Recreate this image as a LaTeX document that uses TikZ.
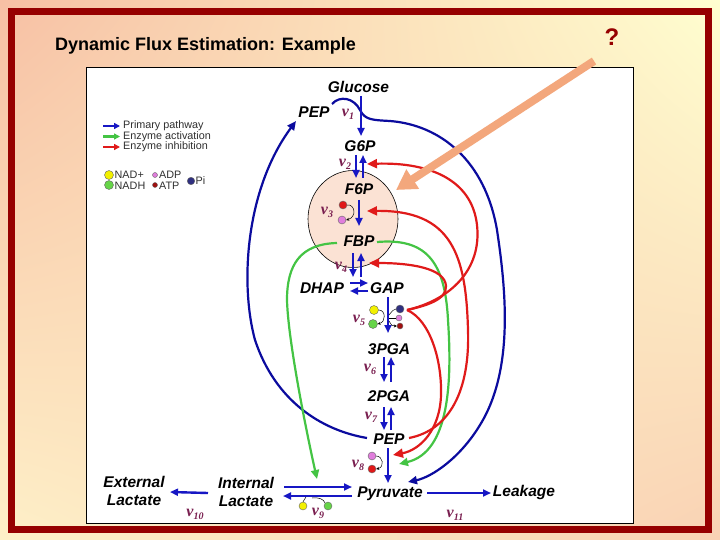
\documentclass[tikz,border=0pt]{standalone}
\usepackage{fontspec}
\setmainfont{Liberation Sans}
\newfontfamily\serfont{Liberation Serif}
\usetikzlibrary{arrows.meta,shapes.geometric,shadings}
\definecolor{pblue}{HTML}{1717C4}
\definecolor{nblue}{HTML}{0B0B9E}
\definecolor{agreen}{HTML}{44C444}
\definecolor{ired}{HTML}{E01A1A}
\definecolor{vcol}{HTML}{7A1F50}
\definecolor{framecol}{HTML}{960000}
\definecolor{peach}{HTML}{F7C0A4}
\definecolor{cream}{HTML}{FFFFD0}
\definecolor{creamb}{HTML}{FEF0C8}
\definecolor{peachb}{HTML}{F9D2B4}
\definecolor{orng}{HTML}{F3A77C}
\definecolor{cellcol}{HTML}{FBE2D4}
\definecolor{nadcol}{HTML}{F2F000}
\definecolor{nadhcol}{HTML}{66D448}
\definecolor{adpcol}{HTML}{E07EDC}
\definecolor{atpcol}{HTML}{A01010}
\definecolor{atpred}{HTML}{E01818}
\definecolor{picol}{HTML}{303080}
\definecolor{legtext}{HTML}{303030}
\newcommand{\vlab}[1]{{\serfont\bfseries\itshape\fontsize{16}{16}\selectfont v\raisebox{-3pt}{\fontsize{10}{10}\selectfont #1}}}
\begin{document}
\begin{tikzpicture}[x=1pt,y=-1pt,
  met/.style={font=\bfseries\itshape\fontsize{15.5}{18}\selectfont, inner sep=0pt, text height=11pt, text depth=0pt},
  mettwo/.style={font=\bfseries\itshape\fontsize{15.5}{18}\selectfont, inner sep=0pt, align=center},
  vl/.style={text=vcol, inner sep=0pt},
  leg/.style={font=\fontsize{10.8}{12}\selectfont, text=legtext, inner sep=0pt, anchor=west},
  pa/.style={pblue, line width=2.4pt, -{Triangle[length=8pt,width=7pt]}},
  nav/.style={nblue, line width=2.2pt, -{Triangle[length=9pt,width=8pt]}},
  grn/.style={agreen, line width=2.2pt, -{Triangle[length=9pt,width=8pt]}},
  rdl/.style={ired, line width=2.2pt, -{Triangle[length=10pt,width=9pt]}},
  cof/.style={circle, draw=black!60, line width=0.4pt, inner sep=0pt},
  tinyarr/.style={black, line width=0.5pt, -{Stealth[length=3pt,width=3pt]}},
  tinyline/.style={black, line width=0.5pt}
]
\useasboundingbox (0,0) rectangle (720,540);
% background
\shade[upper left=peach, upper right=cream, lower left=creamb, lower right=peachb] (0,0) rectangle (720,540);
\draw[framecol, line width=7pt] (11.5,11.5) rectangle (708.5,529);
\draw[fill=white, line width=0.8pt] (86,67) rectangle (633,523);

% title
\node[font=\bfseries\fontsize{18}{20}\selectfont, anchor=west, inner sep=0pt] (title) at (55,46) {Dynamic Flux Estimation: Example};
\node[font=\bfseries\fontsize{24}{26}\selectfont, text=framecol, inner sep=0pt] (qmark) at (612,37) {?};

% compartment
\node[ellipse, draw, line width=0.6pt, fill=cellcol, minimum width=90pt, minimum height=97pt, inner sep=0pt] (pfk) at (353,219) {};

% metabolites
\node[met] (glc) at (358.5,87.5) {Glucose};
\node[met] (pepA) at (314,112) {PEP};
\node[met] (g6p) at (360,146) {G6P};
\node[met] (f6p) at (359,189) {F6P};
\node[met] (fbp) at (359,241) {FBP};
\node[met] (dhap) at (322,288) {DHAP};
\node[met] (gap) at (387,288) {GAP};
\node[met] (pga3) at (389,349) {3PGA};
\node[met] (pga2) at (389,396) {2PGA};
\node[met] (pepB) at (389,439) {PEP};
\node[met] (pyr) at (390,492) {Pyruvate};
\node[met] (leak) at (524,491) {Leakage};
\node[mettwo] (ilac) at (246,492) {Internal\\Lactate};
\node[mettwo] (elac) at (134,491) {External\\Lactate};
\coordinate (tri) at (357,287);

% cofactor circles
\node[cof, fill=atpred, minimum size=8pt] (atp3) at (343,205) {};
\node[cof, fill=adpcol, minimum size=8pt] (adp3) at (342,220) {};
\node[cof, fill=nadcol, minimum size=9pt] (nad5) at (374,310) {};
\node[cof, fill=nadhcol, minimum size=9pt] (nadh5) at (373,324) {};
\node[cof, fill=picol, minimum size=8pt] (pi5) at (400,309) {};
\node[cof, fill=adpcol, minimum size=6pt] (adp5) at (399,318) {};
\node[cof, fill=atpcol, minimum size=6pt] (atp5) at (400,326) {};
\node[cof, fill=adpcol, minimum size=8pt] (adp8) at (372,456) {};
\node[cof, fill=atpred, minimum size=8pt] (atp8) at (372,469) {};
\node[cof, fill=nadcol, minimum size=8pt] (nad9) at (303,506) {};
\node[cof, fill=nadhcol, minimum size=8pt] (nadh9) at (328,506) {};
\coordinate (m5) at (388,318);

% navy curves
\draw[nav] ([shift={(18,-8)}]pepA.center) .. controls (340,95) and (354,98) .. (360,110)
  .. controls (365,120) and (372,120) .. (390,121)
  .. controls (440,125) and (485,160) .. (497,230)
  .. controls (506,290) and (514,370) .. (480,425)
  .. controls (460,458) and (432,477) .. ([shift={(18,-10)}]pyr.center);
\draw[nav] ([shift={(-22,-1)}]pepB.center) .. controls (320,430) and (275,400) .. (255,340)
  .. controls (240,285) and (245,190) .. ([shift={(-18,9)}]pepA.center);

% green curves
\draw[grn] ([shift={(-22,2)}]fbp.center) .. controls (300,244) and (287,265) .. (287,300)
  .. controls (288,340) and (306,430) .. ([shift={(-73,-13)}]pyr.center);
\draw[grn] ([shift={(18,1)}]fbp.center) .. controls (425,238) and (445,260) .. (448,320)
  .. controls (452,380) and (450,452) .. ([shift={(10,25)}]pepB.center);

% red curves
\draw[rdl] ([shift={(20,-1)}]pepB.center) .. controls (450,430) and (470,390) .. (468,330)
  .. controls (466,255) and (452,210) .. ([shift={(8,22)}]f6p.center);
\draw[rdl] ([shift={(7,1)}]pi5.center) .. controls (450,300) and (482,270) .. (477,225)
  .. controls (472,180) and (430,162) .. ([shift={(7,18)}]g6p.center);
\draw[rdl] ([shift={(7,1)}]pi5.center) .. controls (425,306) and (447,300) .. (446,286)
  .. controls (445,268) and (410,263) .. ([shift={(10,22)}]fbp.center);
\draw[rdl] ([shift={(7,1)}]pi5.center) .. controls (430,320) and (442,360) .. (441,395)
  .. controls (440,430) and (420,450) .. ([shift={(4,16)}]pepB.center);

% main pathway arrows
\draw[pa] ([shift={(2.5,8.5)}]glc.center) -- ([shift={(1,-10)}]g6p.center);
\draw[pa] ([shift={(-4,9)}]g6p.center) -- ([shift={(-3,-11)}]f6p.center);
\draw[pa] ([shift={(4,-11)}]f6p.center) -- ([shift={(3,9)}]g6p.center);
\draw[pa] ([shift={(0,11)}]f6p.center) -- ([shift={(0,-15)}]fbp.center);
\draw[pa] ([shift={(-6,12)}]fbp.center) -- ([shift={(-4,-10)}]tri);
\draw[pa] ([shift={(4,-10)}]tri) -- ([shift={(2,12)}]fbp.center);
\draw[pa] ([shift={(28,-5)}]dhap.center) -- ([shift={(-19,-5)}]gap.center);
\draw[pa] ([shift={(-19,3)}]gap.center) -- ([shift={(28,3)}]dhap.center);
\draw[pa] ([shift={(1,9)}]gap.center) -- ([shift={(-1,-16)}]pga3.center);
\draw[pa] ([shift={(-5,8)}]pga3.center) -- ([shift={(-5,-14)}]pga2.center);
\draw[pa] ([shift={(2,-14)}]pga2.center) -- ([shift={(2,8)}]pga3.center);
\draw[pa] ([shift={(-5,11)}]pga2.center) -- ([shift={(-5,-9)}]pepB.center);
\draw[pa] ([shift={(2,-9)}]pepB.center) -- ([shift={(2,11)}]pga2.center);
\draw[pa] ([shift={(-1,9)}]pepB.center) -- ([shift={(-2,-9)}]pyr.center);
\draw[pa] ([shift={(37,1)}]pyr.center) -- ([shift={(-33,2)}]leak.center);
\draw[pa] ([shift={(38,-5)}]ilac.center) -- ([shift={(-38,-5)}]pyr.center);
\draw[pa] ([shift={(-38,4)}]pyr.center) -- ([shift={(37,4)}]ilac.center);
\draw[pa] ([shift={(-38,1)}]ilac.center) -- ([shift={(36,1)}]elac.center);

% cofactor arrows
\draw[tinyarr] (atp3.east) .. controls (355,204) and (357,217) .. (adp3.east);
\draw[tinyarr] (nad5.east) .. controls (386,310) and (386,322) .. (nadh5.east);
\draw[tinyline] (pi5.west) .. controls (393,310) .. ([shift={(1,-3)}]m5);
\draw[tinyline] (adp5.west) -- ([shift={(1,0)}]m5);
\draw[tinyarr] ([shift={(1,3)}]m5) .. controls (392,326) .. (atp5.west);
\draw[tinyarr] (adp8.east) .. controls (383,456) and (385,467) .. (atp8.east);
\draw[tinyline] (nad9.north) -- ([shift={(-84,5)}]pyr.center);
\draw[tinyline] ([shift={(-78,6)}]pyr.center) .. controls (318,497) and (324,499) .. (nadh9.north west);

% v labels
\node[vl] (v1) at (348,114) {\vlab{1}};
\node[vl] (v2) at (345,164) {\vlab{2}};
\node[vl] (v3) at (327,212) {\vlab{3}};
\node[vl] (v4) at (341,267) {\vlab{4}};
\node[vl] (v5) at (359,320) {\vlab{5}};
\node[vl] (v6) at (370,369) {\vlab{6}};
\node[vl] (v7) at (371,417) {\vlab{7}};
\node[vl] (v8) at (358,465) {\vlab{8}};
\node[vl] (v9) at (318,513) {\vlab{9}};
\node[vl] (v10) at (195,514) {\vlab{10}};
\node[vl] (v11) at (455,515) {\vlab{11}};

% legend
\node[leg] (lg1) at (123,126) {Primary pathway};
\node[leg] (lg2) at (123,136.5) {Enzyme activation};
\node[leg] (lg3) at (123,147) {Enzyme inhibition};
\draw[pblue, line width=2.4pt, -{Triangle[length=6pt,width=6pt]}] ([xshift=-20pt]lg1.west) -- ([xshift=-3pt]lg1.west);
\draw[agreen, line width=2.4pt, -{Triangle[length=6pt,width=6pt]}] ([xshift=-20pt]lg2.west) -- ([xshift=-3pt]lg2.west);
\draw[ired, line width=2.4pt, -{Triangle[length=6pt,width=6pt]}] ([xshift=-20pt]lg3.west) -- ([xshift=-3pt]lg3.west);
\node[cof, fill=nadcol, minimum size=9pt] (lnad) at (109,175) {};
\node[cof, fill=nadhcol, minimum size=9pt] (lnadh) at (109,185) {};
\node[cof, fill=adpcol, minimum size=5pt] (ladp) at (155,175) {};
\node[cof, fill=atpcol, minimum size=5pt] (latp) at (155,185) {};
\node[cof, fill=picol, minimum size=7.5pt] (lpi) at (191,181) {};
\node[leg] (tnad) at (114.5,175) {NAD+};
\node[leg] (tnadh) at (114.5,186) {NADH};
\node[leg] (tadp) at (159,175) {ADP};
\node[leg] (tatp) at (159,186) {ATP};
\node[leg] (tpi) at (195.5,181) {Pi};

% pointer arrow
\coordinate (qtail) at (594,61);
\draw[orng, line width=8pt, -{Triangle[length=20pt,width=22pt]}] (qtail) -- ([shift={(43,-29)}]pfk.center);
\end{tikzpicture}
\end{document}
